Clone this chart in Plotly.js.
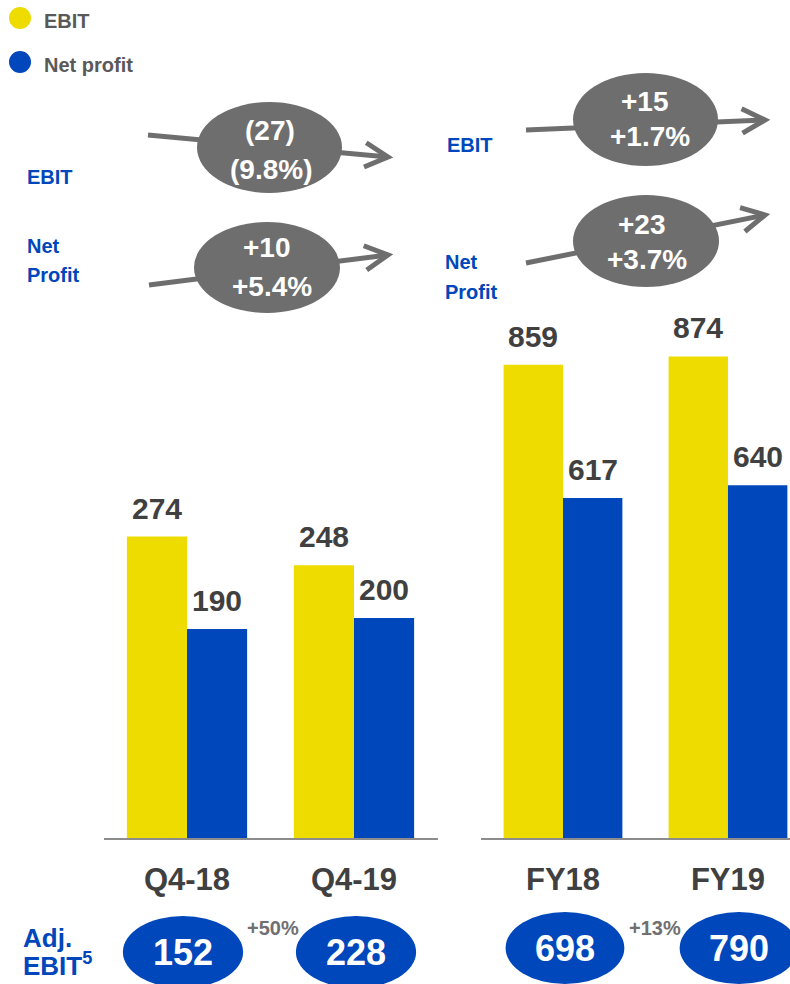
<!DOCTYPE html>
<html>
<head>
<meta charset="utf-8">
<script src="https://cdn.plot.ly/plotly-3.0.1.min.js"></script>
<style>
  html, body { margin: 0; padding: 0; background: #ffffff; }
  #chart { width: 790px; height: 984px; }
</style>
</head>
<body>
<div id="chart"></div>
<script>
// ---- data ----
const seriesNames = ['EBIT', 'Net profit'];
const quarterCats = ['Q4-18', 'Q4-19'];
const quarterEbit = [274, 248];
const quarterNet = [190, 200];
const yearCats = ['FY18', 'FY19'];
const yearEbit = [859, 874];
const yearNet = [617, 640];
const adjEbitQuarter = [152, 228];
const adjEbitYear = [698, 790];
const adjGrowth = ['+50%', '+13%'];
const quarterEbitDelta = ['(27)', '(9.8%)'];
const quarterNetDelta = ['+10', '+5.4%'];
const yearEbitDelta = ['+15', '+1.7%'];
const yearNetDelta = ['+23', '+3.7%'];
const rowLabels = ['EBIT', 'Net', 'Profit'];
const adjLabel = ['Adj.', 'EBIT<sup>5</sup>'];

// ---- styling ----
const W = 790, H = 984;
const YELLOW = '#EEDC00';
const BLUE = '#0047BB';
const GREY = '#6E6E6E';
const DARK = '#404040';
const FONT = 'Liberation Sans, Arial, sans-serif';
const px = x => x / W;
const py = y => 1 - y / H;

const baseY = 838, topY = 300;
const quarterScale = 1.1;    // px per unit, quarter panel
const yearScale = 0.551;     // px per unit, full-year panel
const plotH = baseY - topY;

function bar(x, y, color, name, xa, ya) {
  return {
    type: 'bar', x: x, y: y, name: name,
    marker: { color: color, line: { width: 0 } },
    xaxis: xa, yaxis: ya, showlegend: false, hoverinfo: 'skip'
  };
}

const data = [
  bar(quarterCats, quarterEbit, YELLOW, seriesNames[0], 'x', 'y'),
  bar(quarterCats, quarterNet, BLUE, seriesNames[1], 'x', 'y'),
  bar(yearCats, yearEbit, YELLOW, seriesNames[0], 'x2', 'y2'),
  bar(yearCats, yearNet, BLUE, seriesNames[1], 'x2', 'y2')
];

const shapes = [];
const annotations = [];

function txt(text, x, y, size, color, opts) {
  annotations.push(Object.assign({
    text: text, x: x, y: y, xref: 'paper', yref: 'paper',
    xanchor: 'center', yanchor: 'middle', showarrow: false,
    font: { family: FONT, size: size, color: color, weight: 'bold' }
  }, opts || {}));
}

// legend markers
[[YELLOW, 18], [BLUE, 62]].forEach((c, i) => {
  shapes.push({ type: 'circle', xref: 'paper', yref: 'paper',
    x0: px(9), x1: px(31), y0: py(c[1] - 11), y1: py(c[1] + 11),
    fillcolor: c[0], line: { width: 0 } });
  txt(seriesNames[i], px(42), py(c[1] + 3), 20, '#595959', { xanchor: 'left' });
});

// change arrows with grey bubbles
function arrow(x0, y0, x1, y1) {
  shapes.push({ type: 'line', xref: 'paper', yref: 'paper',
    x0: px(x0), y0: py(y0), x1: px(x1), y1: py(y1),
    line: { color: GREY, width: 5 } });
  const len = Math.hypot(x1 - x0, y1 - y0);
  const dx = (x0 - x1) / len, dy = (y0 - y1) / len;
  const L = 26, a = 28 * Math.PI / 180;
  const pts = [a, -a].map(t => [
    x1 + L * (dx * Math.cos(t) - dy * Math.sin(t)),
    y1 + L * (dx * Math.sin(t) + dy * Math.cos(t))
  ]);
  shapes.push({ type: 'path', xref: 'paper', yref: 'paper',
    path: 'M' + px(pts[0][0]) + ',' + py(pts[0][1]) +
          ' L' + px(x1) + ',' + py(y1) +
          ' L' + px(pts[1][0]) + ',' + py(pts[1][1]),
    line: { color: GREY, width: 5 } });
}
function bubble(x0, y0, x1, y1) {
  shapes.push({ type: 'circle', xref: 'paper', yref: 'paper',
    x0: px(x0), x1: px(x1), y0: py(y0), y1: py(y1),
    fillcolor: GREY, line: { width: 0 } });
}

arrow(148, 135, 388, 157);
arrow(149, 285, 388, 255);
arrow(526, 130, 765, 120);
arrow(526, 263, 765, 215);
bubble(197, 102, 342, 193);
bubble(194, 222, 340, 313);
bubble(573, 73, 718, 166);
bubble(573, 195, 719, 287);

txt(quarterEbitDelta[0], px(270), py(131), 28, '#ffffff');
txt(quarterEbitDelta[1], px(271), py(170), 28, '#ffffff');
txt(quarterNetDelta[0], px(267), py(248), 28, '#ffffff');
txt(quarterNetDelta[1], px(272), py(286), 28, '#ffffff');
txt(yearEbitDelta[0], px(645), py(102), 28, '#ffffff');
txt(yearEbitDelta[1], px(650), py(137), 28, '#ffffff');
txt(yearNetDelta[0], px(642), py(224), 28, '#ffffff');
txt(yearNetDelta[1], px(647), py(259), 28, '#ffffff');

// row labels
txt(rowLabels[0], px(25), py(177), 20, BLUE, { xanchor: 'left' });
txt(rowLabels[1], px(25), py(246), 20, BLUE, { xanchor: 'left' });
txt(rowLabels[2], px(25), py(275), 20, BLUE, { xanchor: 'left' });
txt(rowLabels[0], px(445), py(145), 20, BLUE, { xanchor: 'left' });
txt(rowLabels[1], px(443), py(262), 20, BLUE, { xanchor: 'left' });
txt(rowLabels[2], px(443), py(292), 20, BLUE, { xanchor: 'left' });

// bar value labels
const half = 0.18;
function valueLabels(vals, off, xa, ya) {
  vals.forEach((v, i) => annotations.push({
    text: String(v), x: i + off, y: v, xref: xa, yref: ya,
    xanchor: 'center', yanchor: 'bottom', yshift: 10, showarrow: false,
    font: { family: FONT, size: 30, color: DARK, weight: 'bold' }
  }));
}
valueLabels(quarterEbit, -half, 'x', 'y');
valueLabels(quarterNet, half, 'x', 'y');
valueLabels(yearEbit, -half, 'x2', 'y2');
valueLabels(yearNet, half, 'x2', 'y2');

// adjusted EBIT bubbles
function adjBubbles(vals, shifts, xa, cy) {
  vals.forEach((v, i) => {
    const c = i + shifts[i];
    shapes.push({ type: 'circle', xref: xa, yref: 'paper',
      x0: c - 0.36, x1: c + 0.36, y0: py(cy - 36), y1: py(cy + 36),
      fillcolor: BLUE, line: { width: 0 } });
    annotations.push({ text: String(v), x: c, y: py(cy), xref: xa, yref: 'paper',
      xanchor: 'center', yanchor: 'middle', showarrow: false,
      font: { family: FONT, size: 36, color: '#ffffff', weight: 'bold' } });
  });
}
adjBubbles(adjEbitQuarter, [-0.024, 0.012], 'x', 952);
adjBubbles(adjEbitYear, [0.012, 0.067], 'x2', 948);

annotations.push({ text: adjGrowth[0], x: 0.5, y: py(928), xref: 'x', yref: 'paper',
  xshift: 2, showarrow: false, xanchor: 'center', yanchor: 'middle',
  font: { family: FONT, size: 20, color: '#707070', weight: 'bold' } });
annotations.push({ text: adjGrowth[1], x: 0.5, y: py(928), xref: 'x2', yref: 'paper',
  xshift: 10, showarrow: false, xanchor: 'center', yanchor: 'middle',
  font: { family: FONT, size: 20, color: '#707070', weight: 'bold' } });

txt(adjLabel[0], px(21), py(938), 26, BLUE, { xanchor: 'left' });
txt(adjLabel[1], px(21), py(964), 26, BLUE, { xanchor: 'left' });

// ---- axes ----
const catAxis = {
  type: 'category', showline: true, linecolor: '#8c8c8c', linewidth: 2,
  showgrid: false, zeroline: false, ticks: '', fixedrange: true,
  ticklabelstandoff: 13,
  tickfont: { family: FONT, size: 31, color: DARK, weight: 'bold' }
};
const valAxis = { visible: false, showgrid: false, zeroline: false, fixedrange: true,
  domain: [py(baseY), py(topY)] };

const layout = {
  width: W, height: H,
  margin: { l: 0, r: 0, t: 0, b: 0 },
  paper_bgcolor: '#ffffff', plot_bgcolor: 'rgba(0,0,0,0)',
  barmode: 'group', bargap: 0.28, bargroupgap: 0,
  showlegend: false,
  xaxis: Object.assign({}, catAxis, { domain: [px(103.5), px(437.5)], range: [-0.5, 1.5], anchor: 'y' }),
  yaxis: Object.assign({}, valAxis, { range: [0, plotH / quarterScale], anchor: 'x' }),
  xaxis2: Object.assign({}, catAxis, { domain: [px(480.5), 1], range: [-0.5, 1.376], anchor: 'y2' }),
  yaxis2: Object.assign({}, valAxis, { range: [0, plotH / yearScale], anchor: 'x2' }),
  shapes: shapes,
  annotations: annotations
};

Plotly.newPlot('chart', data, layout, { displayModeBar: false, staticPlot: true });
</script>
</body>
</html>
